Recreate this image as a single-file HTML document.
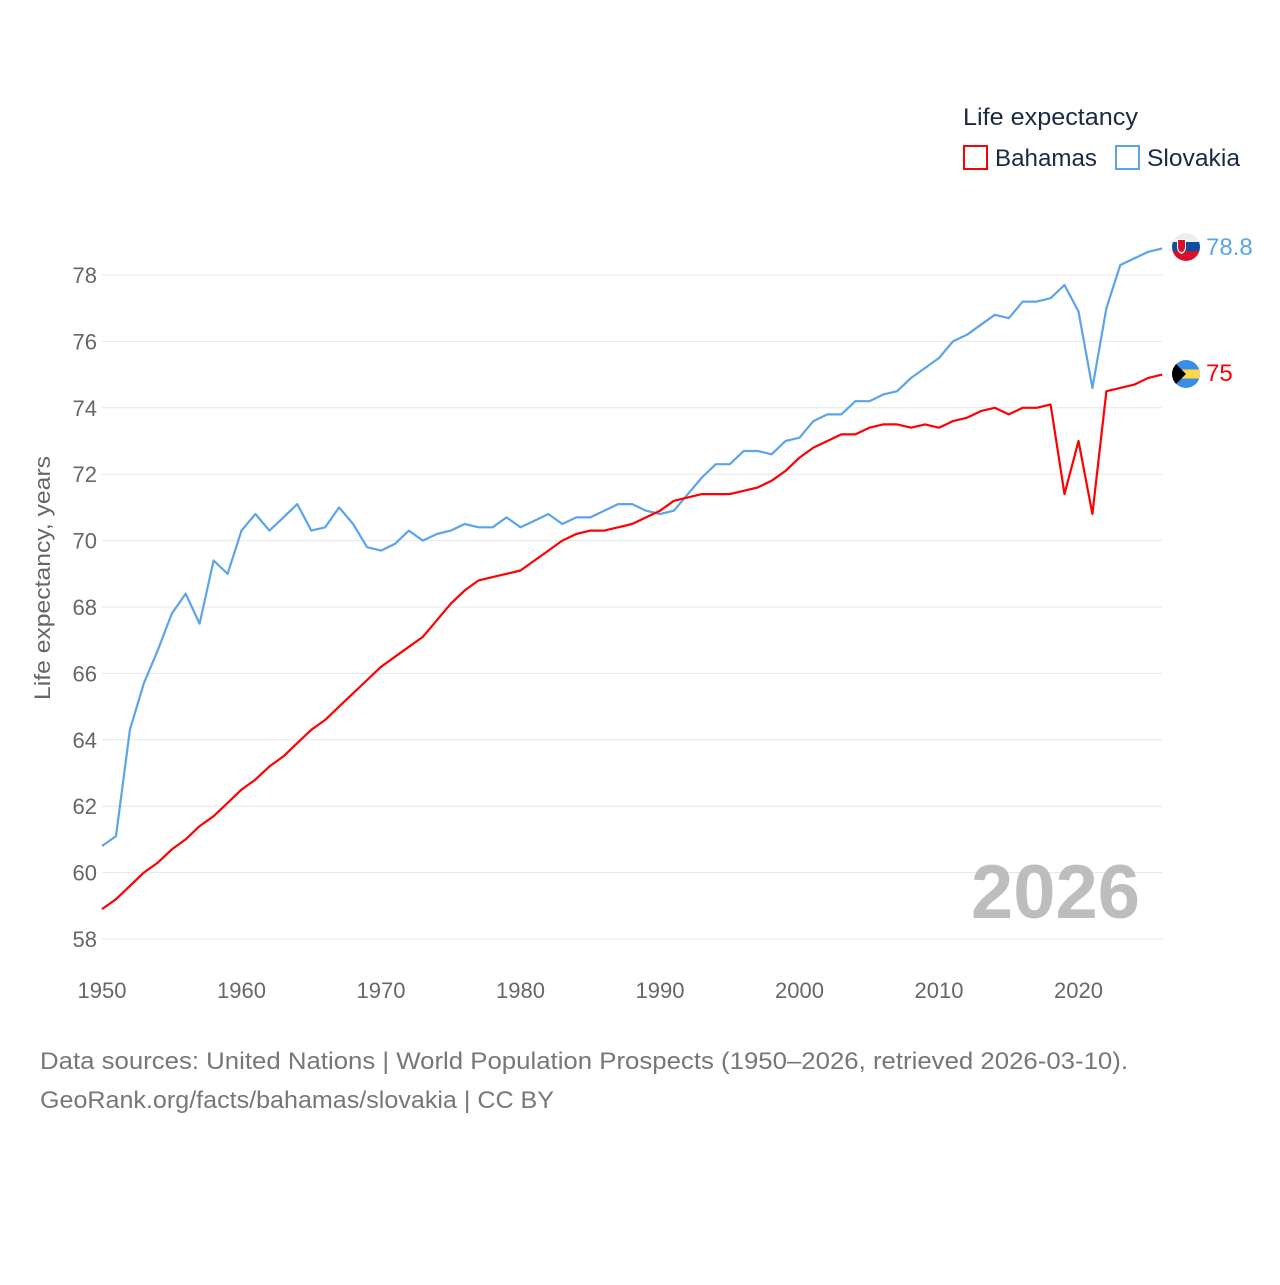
<!DOCTYPE html>
<html><head><meta charset="utf-8"><style>
body{margin:0;background:#fff;font-family:"Liberation Sans",sans-serif;}
svg text{font-family:"Liberation Sans",sans-serif;}
</style></head><body>
<svg id="chart" width="1280" height="1280" viewBox="0 0 1280 1280">
<g id="grid"></g>
<g id="yticks"></g>
<g id="xticks"></g>
<text x="50" y="578" transform="rotate(-90 50 578)" text-anchor="middle" font-size="22" fill="#666" textLength="244" lengthAdjust="spacingAndGlyphs">Life expectancy, years</text>
<text x="1140" y="918" text-anchor="end" font-size="76" font-weight="bold" fill="#bdbdbd">2026</text>
<g>
<text x="963" y="125" font-size="24" fill="#1a2a44" textLength="175" lengthAdjust="spacingAndGlyphs">Life expectancy</text>
<g><rect x="964" y="146" width="23" height="23" fill="none" stroke="#f00" stroke-width="2"/><text x="995" y="166" font-size="24" fill="#1a2a44" textLength="102" lengthAdjust="spacingAndGlyphs">Bahamas</text></g>
<g><rect x="1116" y="146" width="23" height="23" fill="none" stroke="#5ba4ea" stroke-width="2"/><text x="1147" y="166" font-size="24" fill="#1a2a44" textLength="93" lengthAdjust="spacingAndGlyphs">Slovakia</text></g>
</g>
<g id="series"></g>
<g>
<clipPath id="c1"><circle cx="1186" cy="247" r="14"/></clipPath>
<g clip-path="url(#c1)"><rect x="1172" y="233" width="28" height="9.5" fill="#eee"/><rect x="1172" y="242" width="28" height="9.5" fill="#0b4ea2"/><rect x="1172" y="251" width="28" height="10" fill="#d8102c"/><path d="M1177 239h9v8q0 5-4.5 7q-4.5-2-4.5-7z" fill="#fff"/><path d="M1178 240h7v7q0 4-3.5 5.5q-3.5-1.5-3.5-5.5z" fill="#d8102c"/></g>
</g>
<g>
<clipPath id="c2"><circle cx="1186" cy="374" r="14"/></clipPath>
<g clip-path="url(#c2)"><rect x="1172" y="360" width="28" height="28" fill="#3a8ee6"/><rect x="1172" y="369.5" width="28" height="9" fill="#ffd84a"/><path d="M1172 360L1186 374L1172 388z" fill="#000"/></g>
</g>
<text x="1206" y="255" font-size="24" fill="#5ba4ea">78.8</text>
<text x="1206" y="381" font-size="24" fill="#f00">75</text>
<text x="40" y="1069" font-size="24" fill="#777" textLength="1088" lengthAdjust="spacingAndGlyphs">Data sources: United Nations | World Population Prospects (1950–2026, retrieved 2026-03-10).</text>
<text x="40" y="1108" font-size="24" fill="#777" textLength="514" lengthAdjust="spacingAndGlyphs">GeoRank.org/facts/bahamas/slovakia | CC BY</text>
</svg>
<script>
const years=[];for(let y=1950;y<=2026;y++)years.push(y);
const slovakia=[60.8,61.1,64.3,65.7,66.7,67.8,68.4,67.5,69.4,69.0,70.3,70.8,70.3,70.7,71.1,70.3,70.4,71.0,70.5,69.8,69.7,69.9,70.3,70.0,70.2,70.3,70.5,70.4,70.4,70.7,70.4,70.6,70.8,70.5,70.7,70.7,70.9,71.1,71.1,70.9,70.8,70.9,71.4,71.9,72.3,72.3,72.7,72.7,72.6,73.0,73.1,73.6,73.8,73.8,74.2,74.2,74.4,74.5,74.9,75.2,75.5,76.0,76.2,76.5,76.8,76.7,77.2,77.2,77.3,77.7,76.9,74.6,77.0,78.3,78.5,78.7,78.8];
const bahamas=[58.9,59.2,59.6,60.0,60.3,60.7,61.0,61.4,61.7,62.1,62.5,62.8,63.2,63.5,63.9,64.3,64.6,65.0,65.4,65.8,66.2,66.5,66.8,67.1,67.6,68.1,68.5,68.8,68.9,69.0,69.1,69.4,69.7,70.0,70.2,70.3,70.3,70.4,70.5,70.7,70.9,71.2,71.3,71.4,71.4,71.4,71.5,71.6,71.8,72.1,72.5,72.8,73.0,73.2,73.2,73.4,73.5,73.5,73.4,73.5,73.4,73.6,73.7,73.9,74.0,73.8,74.0,74.0,74.1,71.4,73.0,70.8,74.5,74.6,74.7,74.9,75.0];
const yTicks=[58,60,62,64,66,68,70,72,74,76,78];
const xTicks=[1950,1960,1970,1980,1990,2000,2010,2020];
const NS="http://www.w3.org/2000/svg";
const xS=y=>102+(y-1950)*13.95;
const yS=v=>275+(78-v)*33.2;
function mk(t,a,p){const e=document.createElementNS(NS,t);for(const k in a)e.setAttribute(k,a[k]);p.appendChild(e);return e;}
const grid=document.getElementById('grid'),yt=document.getElementById('yticks'),xt=document.getElementById('xticks'),ser=document.getElementById('series');
yTicks.forEach(v=>{
 const l=mk('line',{x1:102,x2:1162,y1:yS(v),y2:yS(v),stroke:'#e6e6e6','stroke-width':1},grid);
 
 
 const t=mk('text',{x:97,y:yS(v)+8,'text-anchor':'end','font-size':22,fill:'#666'},yt);
 t.textContent=v;
 
 
});
xTicks.forEach(y=>{
 const t=mk('text',{x:xS(y),y:998,'text-anchor':'middle','font-size':22,fill:'#666'},xt);
 t.textContent=y;
 
 
});
function line(vals,color,name){
 const d=vals.map((v,i)=>(i?'L':'M')+xS(years[i]).toFixed(1)+' '+yS(v).toFixed(1)).join(' ');
 const p=mk('path',{d:d,fill:'none',stroke:color,'stroke-width':2.2,'stroke-linejoin':'round'},ser);
 
 
}
line(slovakia,'#5ba4ea','slovakia-line');
line(bahamas,'#f00','bahamas-line');
</script>
</body></html>
